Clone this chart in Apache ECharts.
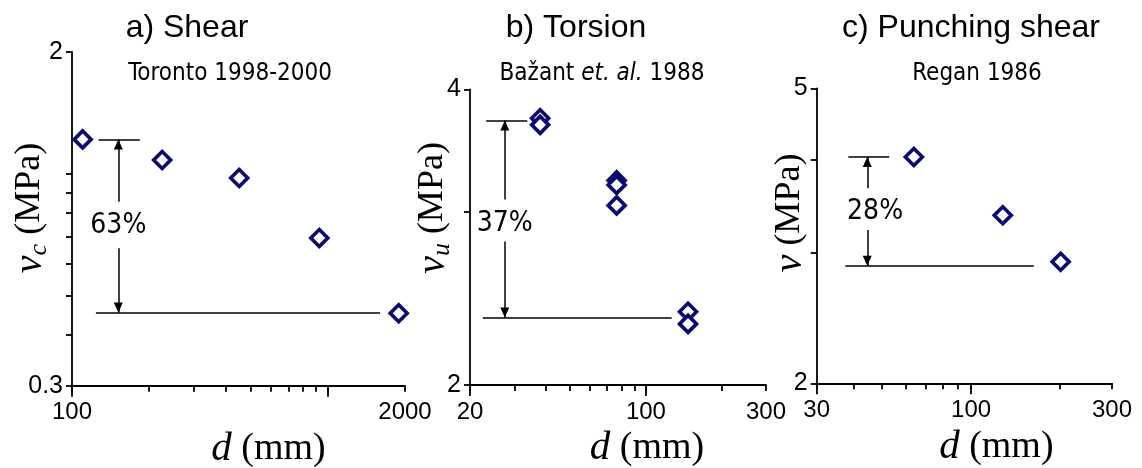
<!DOCTYPE html>
<html><head><meta charset="utf-8">
<script src="https://cdn.jsdelivr.net/npm/echarts@6/dist/echarts.min.js"></script>
<style>html,body{margin:0;padding:0;background:#fff}#c{width:1142px;height:468px}</style>
</head><body><div id="c"></div>
<script>
// ---------- data ----------
const shearD = [110, 225, 450, 925, 1890];
const shearV = [1.217, 1.082, 0.977, 0.695, 0.453];
const torsionD = [38, 38, 76.5, 76.5, 76.5, 147, 147];
const torsionV = [3.737, 3.68, 3.231, 3.197, 3.047, 2.375, 2.308];
const punchD = [64, 128, 201];
const punchV = [4.04, 3.37, 2.917];

// tick values
const shearXTicks = [100, 200, 300, 400, 500, 600, 700, 800, 900, 1000, 2000];
const shearXMajor = [100, 1000];
const shearXLabels = [100, 2000];
const shearYTicks = [0.3, 0.4, 0.5, 0.6, 0.7, 0.8, 0.9, 1, 2];
const shearYLabels = [0.3, 2];
const torsionXTicks = [20, 30, 40, 50, 60, 70, 80, 90, 100, 200, 300];
const torsionXMajor = [20, 100];
const torsionXLabels = [20, 100, 300];
const torsionYTicks = [2, 3, 4];
const torsionYLabels = [2, 4];
const punchXTicks = [30, 40, 50, 60, 70, 80, 90, 100, 200, 300];
const punchXMajor = [30, 100];
const punchXLabels = [30, 100, 300];
const punchYTicks = [2, 3, 4, 5];
const punchYLabels = [2, 5];

// annotations: [x from, x to, level] and arrows
const shearTopLine = [127, 184, 1.217];
const shearBotLine = [124, 1597, 0.455];
const shearArrow = [151.7, 0.854, 0.655];   // x, upper arrow end, lower arrow start
const shearPct = [151.7, 0.744, '63%'];
const torsionTopLine = [23.2, 33.8, 3.717];
const torsionBotLine = [22.5, 126.6, 2.343];
const torsionArrow = [27.5, 3.09, 2.80];
const torsionPct = [27.5, 2.918, '37%'];
const punchTopLine = [38.4, 52.8, 4.04];
const punchBotLine = [37.5, 163, 2.882];
const punchArrow = [44.5, 3.666, 3.22];
const punchPct = [47.3, 3.404, '28%'];

// ---------- styling ----------
const SANS = "'Liberation Sans', Arial, sans-serif";
const NARROW = "'DejaVu Sans Condensed', 'Arial Narrow', sans-serif";
const SERIF = "'Liberation Serif', 'Times New Roman', serif";
const NAVY = '#0a0a72';
const axisLineStyle = {color: '#000', width: 1.8};
const fmt = v => String(Math.round(v * 1000) / 1000);

const grids = [
  {left: 72, top: 52, width: 333, height: 333.7},
  {left: 470, top: 89.3, width: 296, height: 295.7},
  {left: 816.7, top: 88.3, width: 295.3, height: 295}
].map(g => Object.assign({containLabel: false, outerBoundsMode: 'none'}, g));

function xMain(gi, min, max, ticks, labels, namePad) {
  return {
    type: 'log', logBase: 10, gridIndex: gi, min: min, max: max, position: 'bottom',
    axisLine: {lineStyle: axisLineStyle},
    axisTick: {length: 6, interval: 0, customValues: ticks, lineStyle: axisLineStyle},
    minorTick: {show: false}, splitLine: {show: false},
    axisLabel: {customValues: labels, interval: 0, formatter: fmt, margin: 15, color: '#000', fontSize: 24, fontFamily: SANS},
    name: '{d|d}{m| (mm)}', nameLocation: 'middle', nameGap: 43, nameMoveOverlap: false,
    nameTextStyle: {
      padding: [0, 0, 0, namePad],
      rich: {
        d: {fontFamily: SERIF, fontStyle: 'italic', fontSize: 41, color: '#000'},
        m: {fontFamily: SERIF, fontSize: 38, color: '#000'}
      }
    }
  };
}
function xMajor(gi, min, max, ticks) {
  return {
    type: 'log', logBase: 10, gridIndex: gi, min: min, max: max, position: 'bottom',
    axisLine: {show: false},
    axisTick: {length: 11, interval: 0, customValues: ticks, lineStyle: axisLineStyle},
    axisLabel: {show: false}, splitLine: {show: false}, minorTick: {show: false}
  };
}
function yMain(gi, min, max, ticks, labels) {
  return {
    type: 'log', logBase: 10, gridIndex: gi, min: min, max: max,
    axisLine: {lineStyle: axisLineStyle},
    axisTick: {length: 6, interval: 0, customValues: ticks, lineStyle: axisLineStyle},
    minorTick: {show: false}, splitLine: {show: false},
    axisLabel: {customValues: labels, interval: 0, formatter: fmt, margin: 9, color: '#000', fontSize: 25, fontFamily: SANS}
  };
}

function annot(top, bot, arrow, pct) {
  const tri = [9, 10];
  const off = [0, 5];
  return {
    markLine: {
      silent: true, animation: false,
      symbol: ['none', 'none'],
      label: {show: false},
      lineStyle: {color: '#000', width: 1.5, type: 'solid'},
      emphasis: {disabled: true},
      data: [
        [{coord: [top[0], top[2]]}, {coord: [top[1], top[2]]}],
        [{coord: [bot[0], bot[2]]}, {coord: [bot[1], bot[2]]}],
        [{coord: [arrow[0], arrow[1]], symbol: 'none'}, {coord: [arrow[0], top[2]], symbol: 'triangle', symbolSize: tri, symbolOffset: off}],
        [{coord: [arrow[0], arrow[2]], symbol: 'none'}, {coord: [arrow[0], bot[2]], symbol: 'triangle', symbolSize: tri, symbolOffset: off}]
      ]
    },
    markPoint: {
      silent: true, animation: false,
      symbol: 'rect', symbolSize: 1,
      itemStyle: {color: 'rgba(0,0,0,0)'},
      label: {show: true, position: 'inside', formatter: '{b}', color: '#000', fontSize: 28, fontFamily: NARROW},
      data: [{name: pct[2], coord: [pct[0], pct[1]]}]
    }
  };
}

function pts(xs, ys) { return xs.map((x, i) => [x, ys[i]]); }

function scatter(idx, xs, ys, top, bot, arrow, pct) {
  return Object.assign({
    type: 'scatter', xAxisIndex: idx, yAxisIndex: idx,
    data: pts(xs, ys),
    symbol: 'diamond', symbolSize: 17,
    itemStyle: {color: '#fff', borderColor: NAVY, borderWidth: 3.6, opacity: 1},
    emphasis: {disabled: true},
    animation: false
  }, annot(top, bot, arrow, pct));
}

function gtext(x, y, text, size, family, rich) {
  return {type: 'text', x: x, y: y, silent: true,
    style: {text: text, fill: '#000', fontSize: size, fontFamily: family,
      align: 'center', verticalAlign: 'middle', rich: rich || undefined}};
}
const yNameRich = {
  v: {fontFamily: SERIF, fontStyle: 'italic', fontSize: 40, fill: '#000', lineHeight: 44},
  s: {fontFamily: SERIF, fontStyle: 'italic', fontSize: 26, fill: '#000', verticalAlign: 'bottom', lineHeight: 26},
  m: {fontFamily: SERIF, fontSize: 36, fill: '#000', lineHeight: 44}
};
function yName(x, y, sub) {
  const t = gtext(x, y, sub ? '{v|v}{s|' + sub + '}{m| (MPa)}' : '{v|v}{m| (MPa)}', 36, SERIF, yNameRich);
  t.rotation = Math.PI / 2;
  return t;
}

const option = {
  backgroundColor: '#fff',
  animation: false,
  grid: grids,
  xAxis: [
    xMain(0, 100, 2000, shearXTicks, shearXLabels, 60),
    xMain(1, 20, 300, torsionXTicks, torsionXLabels, 58),
    xMain(2, 30, 300, punchXTicks, punchXLabels, 64),
    xMajor(0, 100, 2000, shearXMajor),
    xMajor(1, 20, 300, torsionXMajor),
    xMajor(2, 30, 300, punchXMajor)
  ],
  yAxis: [
    yMain(0, 0.3, 2, shearYTicks, shearYLabels),
    yMain(1, 2, 4, torsionYTicks, torsionYLabels),
    yMain(2, 2, 5, punchYTicks, punchYLabels)
  ],
  series: [
    scatter(0, shearD, shearV, shearTopLine, shearBotLine, shearArrow, shearPct),
    scatter(1, torsionD, torsionV, torsionTopLine, torsionBotLine, torsionArrow, torsionPct),
    scatter(2, punchD, punchV, punchTopLine, punchBotLine, punchArrow, punchPct)
  ],
  graphic: [
    gtext(187, 28, 'a) Shear', 32, SANS),
    gtext(576, 28, 'b) Torsion', 32, SANS),
    gtext(971, 28, 'c) Punching shear', 32, SANS),
    gtext(230, 74, 'Toronto 1998-2000', 24, NARROW),
    gtext(602, 74, 'Bažant {i|et. al.} 1988', 24, NARROW, {i: {fontStyle: 'italic', fontSize: 24, fontFamily: NARROW, fill: '#000'}}),
    gtext(977, 74, 'Regan 1986', 24, NARROW),
    yName(30, 208, 'c'),
    yName(433, 208, 'u'),
    yName(790, 213, null)
  ]
};

const chart = echarts.init(document.getElementById('c'), null, {renderer: 'canvas'});
chart.setOption(option);
</script>
</body></html>
